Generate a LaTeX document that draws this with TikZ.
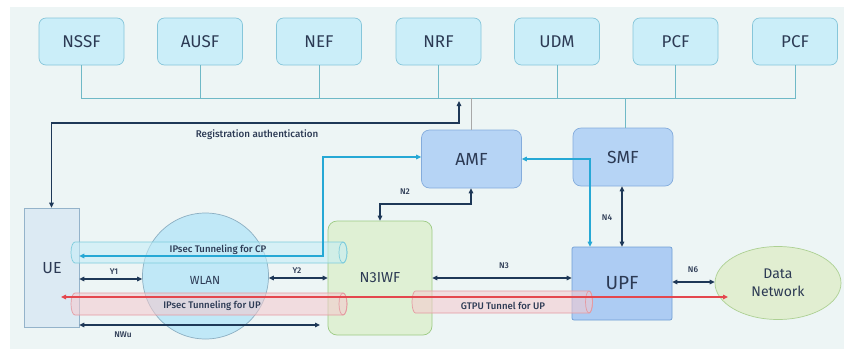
\documentclass[tikz,border=0pt]{standalone}
\usepackage{fontspec}
\setmainfont{Fira Sans}
\newfontfamily\fmed{Fira Sans Medium}
\usetikzlibrary{arrows.meta,shapes.geometric,calc}

\definecolor{bgcol}{HTML}{EDF5F5}
\definecolor{txt}{HTML}{2C3A54}
\definecolor{nffill}{HTML}{CBEEF9}
\definecolor{nfline}{HTML}{86C6DA}
\definecolor{busc}{HTML}{6FB9C7}
\definecolor{corefill}{HTML}{B6D4F5}
\definecolor{coreline}{HTML}{84ACDC}
\definecolor{upffill}{HTML}{ADCCF3}
\definecolor{upfline}{HTML}{6F9ED4}
\definecolor{uefill}{HTML}{DCEAF3}
\definecolor{ueline}{HTML}{94B3CA}
\definecolor{wlanfill}{HTML}{C0E8F7}
\definecolor{wlanline}{HTML}{8CAFC2}
\definecolor{iwffill}{HTML}{DFF0D4}
\definecolor{iwfline}{HTML}{9DCB84}
\definecolor{dnfill}{HTML}{E1EED1}
\definecolor{dnline}{HTML}{ADD093}
\definecolor{darkc}{HTML}{1E3857}
\definecolor{cyanc}{HTML}{26A8D5}
\definecolor{redc}{HTML}{E4474E}
\definecolor{cptube}{HTML}{C4EDF8}
\definecolor{cpedge}{HTML}{7DCCDC}
\definecolor{uptube}{HTML}{F6C9CD}
\definecolor{upedge}{HTML}{E59AA1}
\definecolor{grayc}{HTML}{A8A8A8}

% horizontal pipe: #1 left end, #2 cap centre x, #3 centre y, #4 half height, #5 cap radius
\newcommand{\pipe}[6]{%
  \path[#6] (#1+#5,#3-#4) -- (#2,#3-#4)
    arc[start angle=-90,end angle=90,x radius=#5,y radius=#4]
    -- (#1+#5,#3+#4)
    arc[start angle=90,end angle=270,x radius=#5,y radius=#4] -- cycle;
  \draw[#6,fill opacity=0] (#2,#3) ellipse[x radius=#5,y radius=#4];
}

\begin{document}
\begin{tikzpicture}[x=1pt,y=-1pt,
  >={Triangle[length=5pt,width=4.6pt]},
  nf/.style={draw=nfline,fill=nffill,rounded corners=7pt,line width=0.7pt,
    minimum width=85pt,minimum height=47pt,inner sep=0pt,text=txt,
    font=\fontsize{17}{20}\selectfont},
  core/.style={draw=coreline,fill=corefill,rounded corners=8pt,line width=0.7pt,
    minimum width=100pt,minimum height=58pt,inner sep=0pt,text=txt,
    font=\fontsize{17.5}{20}\selectfont},
  bus/.style={draw=busc,line width=0.9pt},
  darr/.style={draw=darkc,line width=1.1pt,<->},
  carr/.style={draw=cyanc,line width=1.1pt,<->},
  rarr/.style={draw=redc,line width=1.1pt,<->},
  lbl/.style={text=txt,inner sep=0pt,font=\fmed\fontsize{8.3}{10}\selectfont},
  tubelbl/.style={text=txt,inner sep=0pt,font=\fmed\fontsize{9.6}{11}\selectfont},
  cpstyle/.style={fill=cptube,fill opacity=0.55,draw=cpedge,line width=0.7pt},
  upstyle/.style={fill=uptube,fill opacity=0.55,draw=upedge,line width=0.7pt}
]
\useasboundingbox (0,0) rectangle (844,349);
\fill[bgcol] (10,7) rectangle (844,349);

% network functions on the service bus
\node[nf] (nssf) at (81.5,41.5) {NSSF};
\node[nf] (ausf) at (200,41.5) {AUSF};
\node[nf] (nef)  at (319,41.5) {NEF};
\node[nf] (nrf)  at (438.5,41.5) {NRF};
\node[nf] (udm)  at (557,41.5) {UDM};
\node[nf] (pcfa) at (675.5,41.5) {PCF};
\node[nf] (pcfb) at (795,41.5) {PCF};

\node[core] (amf) at (471.5,159) {AMF};
\node[core] (smf) at (623,157) {SMF};
\node[draw=upfline,fill=upffill,rounded corners=2pt,line width=0.7pt,
  minimum width=100pt,minimum height=73pt,inner sep=0pt,text=txt,
  font=\fontsize{19}{22}\selectfont] (upf) at (622,283.5) {UPF};

% bus lines
\draw[bus] (nssf.south) -- (nssf.south |- 0,98) -- (pcfb.south |- 0,98) -- (pcfb.south);
\foreach \n in {ausf,nef,nrf,udm,pcfa}
  \draw[bus] (\n.south) -- (\n.south |- 0,98);
\draw[bus] (smf.north -| 625,0) -- (625,98);
\draw[grayc,line width=0.9pt] (471,98) -- (amf.north -| 471,0);

% access side
\node[draw=ueline,fill=uefill,line width=0.7pt,minimum width=55pt,minimum height=119pt,
  inner sep=0pt,text=txt,font=\fontsize{16}{18}\selectfont] (ue) at (51.5,267.5) {};
\node[text=txt,inner sep=0pt,font=\fontsize{16}{18}\selectfont] (uetext) at (52,268) {UE};
\node[circle,draw=wlanline,fill=wlanfill,line width=0.7pt,minimum size=126pt,inner sep=0pt] (wlan) at (205.5,276) {};
\node[text=txt,inner sep=0pt,font=\fontsize{11.8}{13}\selectfont] (wlantext) at (205,280) {WLAN};
\node[draw=iwfline,fill=iwffill,rounded corners=9pt,line width=0.7pt,minimum width=104pt,
  minimum height=114pt,inner sep=0pt,text=txt,font=\fontsize{14.5}{17}\selectfont]
  (n3iwf) at (380,278) {N3IWF};
\node[ellipse,draw=dnline,fill=dnfill,line width=0.7pt,minimum width=126pt,minimum height=73pt,
  inner sep=0pt,text=txt,align=center,font=\fontsize{14}{18}\selectfont]
  (dn) at (778,283) {Data\\Network};

% tunnels
\pipe{71}{343}{252.5}{10.5}{4}{cpstyle}
\pipe{71}{343}{304}{11}{4}{upstyle}
\pipe{412}{589}{302}{11}{3.5}{upstyle}
\node[tubelbl] (cplbl) at (218,250) {IPsec Tunneling for CP};
\node[tubelbl] (uplbl) at (212,306) {IPsec Tunneling for UP};
\node[tubelbl] (gtlbl) at (503,306) {GTPU Tunnel for UP};

% connectors
\coordinate (regbus) at (459,101);
\draw[darr] (ue.north) -- (ue.north |- 0,123) -- (459,123) -- (regbus);
\node[text=txt,inner sep=0pt,font=\fmed\fontsize{9.8}{11}\selectfont] (reglbl) at (257,135) {Registration authentication};

\draw[carr] (amf.west |- 0,157) -- (323,157) -- (323,256) -- (ue.east |- 0,256);
\draw[carr] (amf.east |- 0,159) -- (590,159) -- (upf.north -| 590,0);

\draw[darr] (n3iwf.north) -- (380,204) -- (471,204) -- (amf.south -| 471,0);
\node[lbl] (n2lbl) at (405,192) {N2};
\draw[darr] (smf.south -| 622,0) -- (upf.north -| 622,0);
\node[lbl] (n4lbl) at (607,218) {N4};
\draw[darr] (n3iwf.east |- 0,278) -- (upf.west |- 0,278);
\node[lbl] (n3lbl) at (504,266) {N3};
\draw[darr] (upf.east |- 0,282) -- (dn.west |- 0,282);
\node[lbl] (n6lbl) at (693,270) {N6};

\draw[darr] (ue.east |- 0,279) -- (wlan.west |- 0,279);
\node[lbl] (y1lbl) at (114,272) {Y1};
\draw[darr] (wlan.east |- 0,278) -- (n3iwf.west |- 0,278);
\node[lbl] (y2lbl) at (297,271) {Y2};
\coordinate (nwuend) at (320,325);
\draw[darr] (ue.east |- 0,325) -- (nwuend);
\node[lbl] (nwulbl) at (123,335) {NWu};

\coordinate (redl) at (61,297);
\coordinate (redr) at (728,297);
\draw[rarr] (redl) -- (redr);
\end{tikzpicture}
\end{document}
